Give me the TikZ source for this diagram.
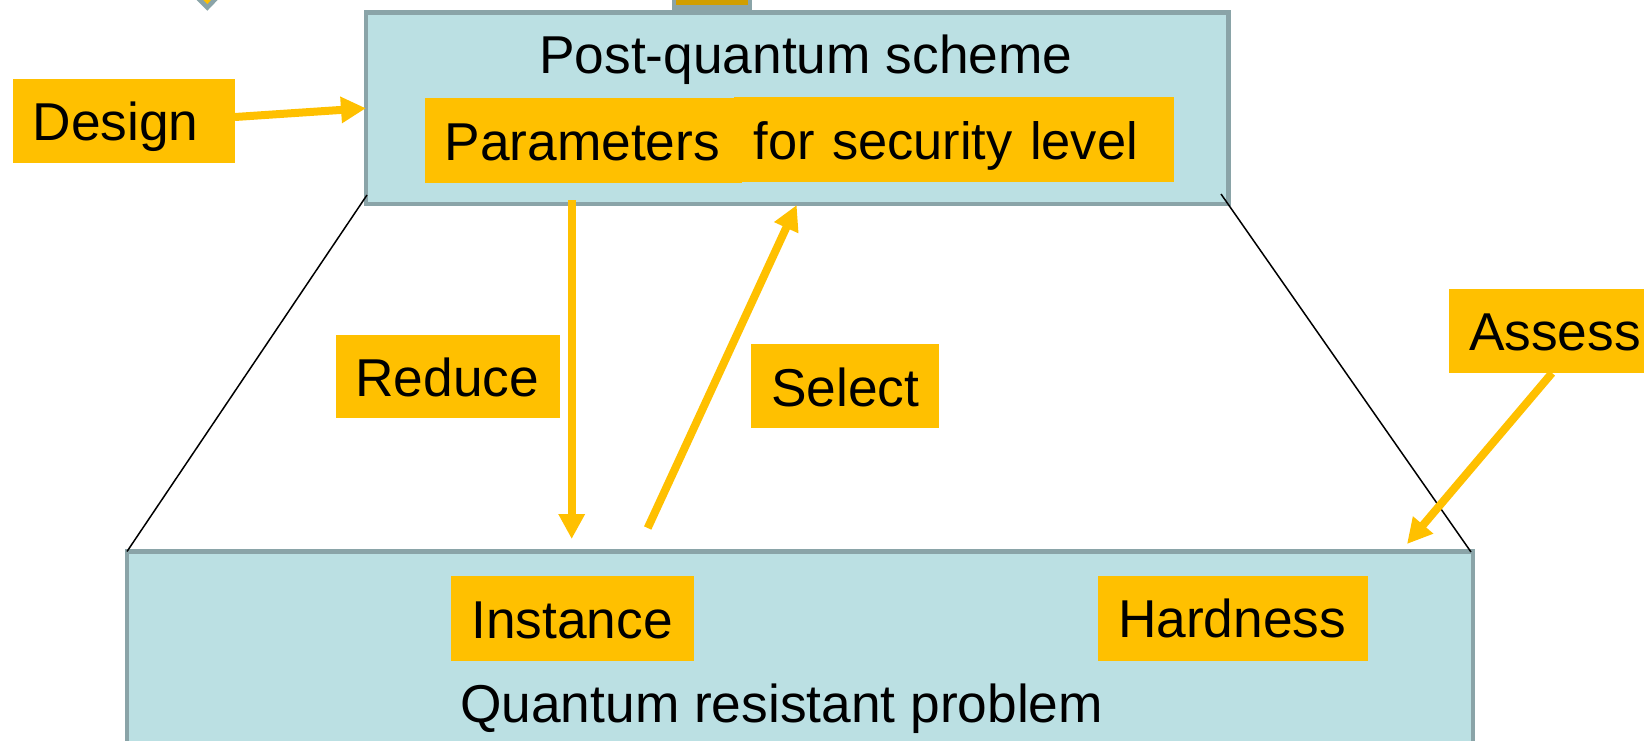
\documentclass[tikz,border=0pt]{standalone}
\usepackage{fontspec}
\setmainfont{Liberation Sans}
\usetikzlibrary{arrows.meta}
\definecolor{panelfill}{RGB}{187,224,227}
\definecolor{panelline}{RGB}{138,164,168}
\definecolor{tagfill}{RGB}{255,192,0}
\definecolor{darkgold}{RGB}{208,158,0}
\tikzset{
  big/.style={font=\fontsize{53.3}{60}\selectfont},
  panel/.style={draw=panelline, fill=panelfill, line width=4.5pt, inner sep=0pt, outer sep=0pt, anchor=north west},
  tag/.style={fill=tagfill, big, align=left, inner xsep=20pt, inner ysep=0pt, outer sep=0pt, anchor=north west},
  flow/.style={draw=tagfill, line width=8pt, -{Triangle[length=25pt,width=25pt]}},
  edge/.style={draw=black, line width=1.5pt},
}
\begin{document}
\begin{tikzpicture}[x=1pt,y=-1pt]
  \useasboundingbox (0,0) rectangle (1644,740);
  \clip (0,0) rectangle (1644,740);

  % pieces of neighbouring shapes entering from the top edge
  \filldraw[draw=panelline, fill=tagfill, line width=4.5pt, miter limit=10]
    (188,-12) -- (207.3,7.5) -- (226,-12) -- cycle;
  \filldraw[draw=panelline, fill=darkgold, line width=4.5pt]
    (674.2,-20) rectangle (749.8,7.5);

  % the two layers
  \node[panel, minimum width=862.5pt, minimum height=191.5pt] (scheme) at (366,12.5) {};
  \node[panel, minimum width=1346pt, minimum height=260pt] (problem) at (127,551.5) {};

  \node[big, anchor=base west, inner sep=0pt] (schemetitle) at (539,73.5) {Post-quantum scheme};
  \node[big, anchor=base west, inner sep=0pt] (problemtitle) at (460,722) {Quantum resistant problem};

  % widening outline between the layers
  \coordinate (tl) at (367,195);
  \coordinate (tr) at (1221,194);
  \draw[edge] (tl) -- (problem.north west);
  \draw[edge] (tr) -- (1471,552);

  % labels
  \node[tag, font=\fontsize{52.4}{60}\selectfont, text width=400.2pt, text height=62.6pt, text depth=22.4pt] (level) at (733.5,96.7) {for security level};
  \node[tag, text width=277.5pt, text height=61.7pt, text depth=22.7pt] (params) at (424.5,98.3) {Parameters};
  \node[tag, text width=182.4pt, text height=60.7pt, text depth=23.3pt] (design) at (12.6,79.3) {Design};
  \node[tag, text width=184.5pt, text height=62pt, text depth=21.8pt] (reduce) at (335.5,334.5) {Reduce};
  \node[tag, text width=148pt, text height=62.7pt, text depth=21.6pt] (select) at (751,344) {Select};
  \node[tag, text width=181pt, text height=61pt, text depth=23pt] (assess) at (1449,289) {Assess};
  \node[tag, text width=202.7pt, text height=62.3pt, text depth=22.4pt] (instance) at (451.3,576) {Instance};
  \node[tag, text width=229.5pt, text height=61.3pt, text depth=23.2pt] (hardness) at (1098,576) {Hardness};

  % arrows
  \coordinate (reduceA) at (571.7,200);
  \coordinate (reduceB) at (571.7,539);
  \coordinate (selectA) at (647.7,528);
  \coordinate (selectB) at (796.7,205);
  \coordinate (assessA) at (1552,373);
  \coordinate (assessB) at (1407,544);
  \coordinate (designA) at (235,117);

  \draw[flow] (designA) -- (scheme.west);
  \draw[flow] (reduceA) -- (reduceB);
  \draw[flow] (selectA) -- (selectB);
  \draw[flow] (assessA) -- (assessB);
\end{tikzpicture}
\end{document}
